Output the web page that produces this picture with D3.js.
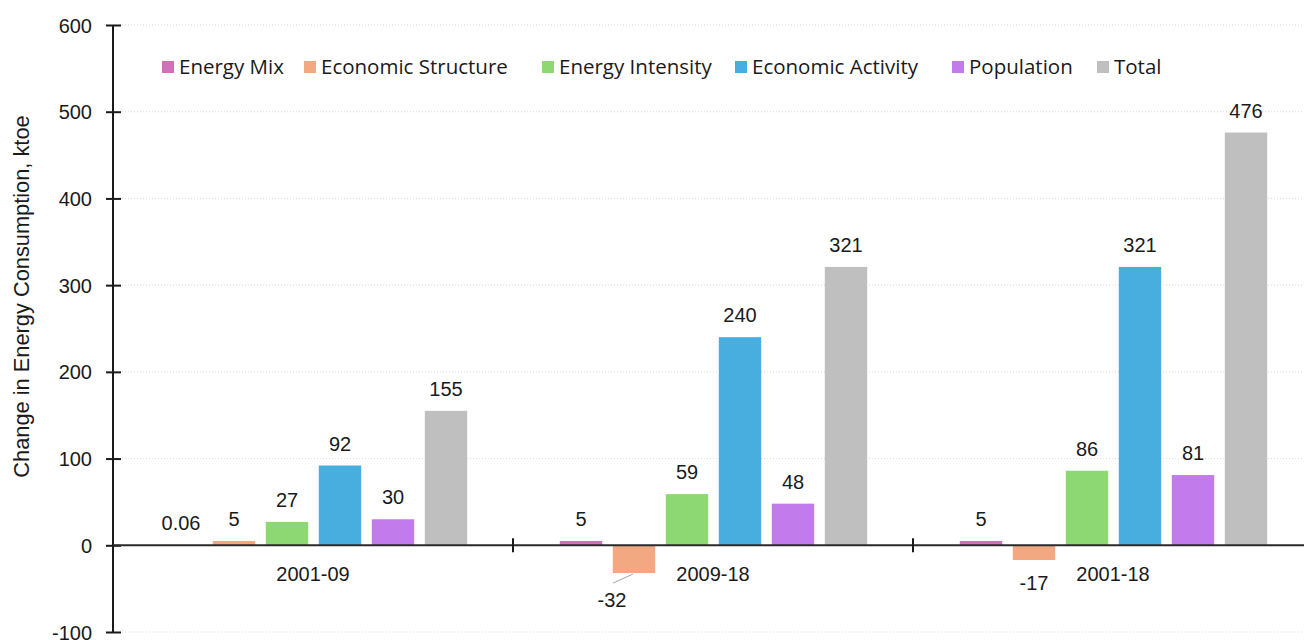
<!DOCTYPE html>
<html>
<head>
<meta charset="utf-8">
<script src="https://cdn.jsdelivr.net/npm/d3@7"></script>
<style>
  html, body { margin: 0; padding: 0; background: #fff; }
  svg { display: block; }
  text { font-family: "Liberation Sans", Arial, sans-serif; fill: #1a1a1a; }
</style>
</head>
<body>
<svg id="chart" width="1304" height="640"></svg>
<script>
// Periods on the x axis
const periods = ["2001-09", "2009-18", "2001-18"];
// Decomposition factors (one bar each per period)
const factors = ["Energy Mix", "Economic Structure", "Energy Intensity", "Economic Activity", "Population", "Total"];
const factorColors = ["#CF70B8", "#F2A880", "#8DD873", "#47AEDF", "#C27BEB", "#BFBFBF"];
// Change in energy consumption (ktoe), by factor, for each period
const energyMix = [0.06, 5, 5];
const economicStructure = [5, -32, -17];
const energyIntensity = [27, 59, 86];
const economicActivity = [92, 240, 321];
const population = [30, 48, 81];
const total = [155, 321, 476];
const yTicks = [-100, 0, 100, 200, 300, 400, 500, 600];

const seriesValues = [energyMix, economicStructure, energyIntensity, economicActivity, population, total];
const rows = [];
periods.forEach((p, i) => {
  factors.forEach((f, j) => rows.push({ period: p, factor: f, value: seriesValues[j][i], color: factorColors[j] }));
});

const svg = d3.select("#chart");
const plotLeft = 113, plotTop = 25, plotBottom = 632, plotRight = 1313;
const labelSize = "20px";

const y = d3.scaleLinear().domain([-100, 600]).range([plotBottom, plotTop]);
const x0 = d3.scaleBand().domain(periods).range([plotLeft, plotRight]).padding(0);
const x1 = d3.scaleBand().domain(factors).range([41.5, 359.5]).paddingInner(0.2).paddingOuter(0.1);

// dotted horizontal gridlines
svg.append("g").selectAll("line").data(yTicks.filter(t => t !== 0)).join("line")
  .attr("x1", plotLeft).attr("x2", 1304)
  .attr("y1", d => y(d)).attr("y2", d => y(d))
  .attr("stroke", "#d9d9d9").attr("stroke-width", 1).attr("stroke-dasharray", "1,2");

// bars
svg.append("g").selectAll("rect").data(rows).join("rect")
  .attr("x", d => x0(d.period) + x1(d.factor))
  .attr("width", x1.bandwidth())
  .attr("y", d => y(Math.max(0, d.value)))
  .attr("height", d => Math.abs(y(d.value) - y(0)))
  .attr("fill", d => d.color);

// y axis
const yAxis = d3.axisLeft(y).tickValues(yTicks).tickSize(0).tickPadding(0).tickFormat(d => String(d));
const gy = svg.append("g").attr("transform", `translate(${plotLeft},0)`).call(yAxis);
gy.select(".domain").remove();
gy.selectAll(".tick text").attr("x", -21).attr("dy", "0.35em")
  .style("font-size", labelSize).style("font-family", "Liberation Sans, Arial, sans-serif").attr("fill", "#1a1a1a");
gy.selectAll(".tick").append("line").attr("x1", -7).attr("x2", 8).attr("stroke", "#1a1a1a").attr("stroke-width", 2);
svg.append("line").attr("x1", plotLeft).attr("x2", plotLeft).attr("y1", plotTop).attr("y2", plotBottom)
  .attr("stroke", "#1a1a1a").attr("stroke-width", 2);

// zero baseline and category axis
const gx = svg.append("g").attr("transform", `translate(0,${y(0)})`)
  .call(d3.axisBottom(x0).tickSize(0).tickPadding(0));
gx.select(".domain").remove();
gx.selectAll(".tick text").attr("y", 36).attr("dy", 0)
  .style("font-size", labelSize).style("font-family", "Liberation Sans, Arial, sans-serif").attr("fill", "#1a1a1a");
svg.append("line").attr("x1", plotLeft).attr("x2", 1304).attr("y1", y(0)).attr("y2", y(0))
  .attr("stroke", "#2a2a2a").attr("stroke-width", 2);
// category separators
svg.append("g").selectAll("line").data(periods.slice(1)).join("line")
  .attr("x1", d => x0(d)).attr("x2", d => x0(d))
  .attr("y1", y(0) - 7).attr("y2", y(0) + 7)
  .attr("stroke", "#1a1a1a").attr("stroke-width", 2);

// value labels; the -32 label sits down-left of its bar with a leader line
const labels = svg.append("g");
rows.forEach(d => {
  const cx = x0(d.period) + x1(d.factor) + x1.bandwidth() / 2;
  let lx = cx, ly;
  if (d.value >= 0) {
    ly = y(d.value) - 15;
  } else {
    ly = y(d.value) + 30;
    if (d.value < -25) {
      lx = cx - 22;
      ly = y(d.value) + 34;
      labels.append("line")
        .attr("x1", cx - 1).attr("y1", y(d.value) + 1)
        .attr("x2", lx + 1).attr("y2", y(d.value) + 10)
        .attr("stroke", "#a6a6a6").attr("stroke-width", 1);
    }
  }
  labels.append("text").attr("x", lx).attr("y", ly).attr("text-anchor", "middle")
    .style("font-size", labelSize).text(String(d.value));
});

// y axis title
svg.append("text")
  .attr("transform", "translate(29,296.5) rotate(-90)")
  .attr("text-anchor", "middle").style("font-size", "21.8px")
  .text("Change in Energy Consumption, ktoe");

// legend (one swatch + name per factor, laid out in a row)
const legendSlots = [162, 304, 542, 735, 952, 1097];
const legend = svg.append("g").attr("transform", "translate(0,67)");
factors.forEach((f, j) => {
  const g = legend.append("g").attr("transform", `translate(${legendSlots[j]},0)`);
  g.append("rect").attr("x", 0).attr("y", -6).attr("width", 12).attr("height", 12).attr("fill", factorColors[j]);
  g.append("text").attr("x", 17).attr("y", 6.5)
    .style("font-size", "20.5px").style("font-family", "'Open Sans', sans-serif").text(f);
});
</script>
</body>
</html>
